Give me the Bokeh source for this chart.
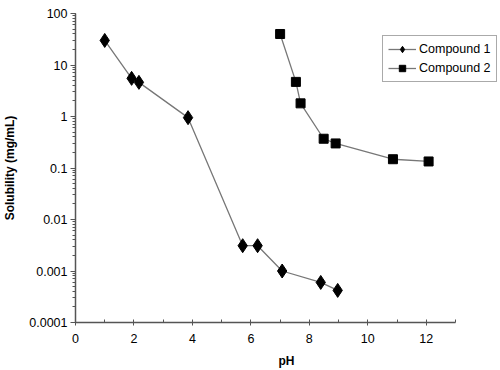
from bokeh.plotting import figure
from bokeh.models import Legend, LegendItem, FixedTicker, LogTicker, Range1d
from bokeh.embed import file_html
from bokeh.resources import INLINE

ph1 = [1.0, 1.92, 2.17, 3.85, 5.72, 6.23, 7.07, 8.39, 8.97]
sol1 = [30, 5.5, 4.6, 0.95, 0.0031, 0.0031, 0.001, 0.0006, 0.00042]
ph2 = [7.0, 7.54, 7.7, 8.49, 8.9, 10.86, 12.08]
sol2 = [40, 4.7, 1.8, 0.37, 0.30, 0.148, 0.134]
x_ticks = [0, 2, 4, 6, 8, 10, 12]
x_minor = [1, 3, 5, 7, 9, 11, 13]
x_max = 13

FONT = "Liberation Sans"

# frame: left 75, top 13, right 497, bottom 322 ; x axis drawn only 0..13
p = figure(width=500, height=370, output_backend="svg", toolbar_location=None,
           y_axis_type="log", x_range=Range1d(0, x_max * 422 / 380), y_range=Range1d(0.0001, 100),
           min_border_left=75, min_border_top=13, min_border_right=3, min_border_bottom=48)
p.outline_line_color = None
p.grid.visible = False
p.background_fill_color = "white"
p.border_fill_color = "white"

l1 = p.line(ph1, sol1, line_color="#777777", line_width=1.3)
m1 = p.scatter(ph1, sol1, marker="diamond", size=14, fill_color="black", line_color="black")
l2 = p.line(ph2, sol2, line_color="#777777", line_width=1.3)
m2 = p.scatter(ph2, sol2, marker="square", size=9, fill_color="black", line_color="black")

legend = Legend(items=[LegendItem(label="Compound 1", renderers=[l1, m1]),
                       LegendItem(label="Compound 2", renderers=[l2, m2])],
                location=(307, 240), border_line_color="#555555", border_line_width=1.5,
                label_text_font=FONT, label_text_font_size="12.5px",
                label_text_color="black", glyph_width=28, glyph_height=16,
                label_height=16, padding=5, spacing=3,
                label_standoff=3, margin=0, background_fill_alpha=1)
p.add_layout(legend, "center")

xa = p.xaxis[0]
xa.ticker = FixedTicker(ticks=x_ticks, minor_ticks=x_minor)
xa.bounds = (0, x_max)
xa.axis_label = "pH"
ya = p.yaxis[0]
ya.ticker = LogTicker(desired_num_ticks=7, num_minor_ticks=10)
ya.axis_label = "Solubility (mg/mL)"

for ax in (xa, ya):
    ax.axis_line_color = "#555555"
    ax.axis_line_width = 1.5
    ax.major_tick_line_color = "#555555"
    ax.minor_tick_line_color = "#555555"
    ax.major_label_text_font = FONT
    ax.major_label_text_font_size = "12.5px"
    ax.major_label_text_color = "black"
    ax.axis_label_text_font = FONT
    ax.axis_label_text_font_size = "12px"
    ax.axis_label_text_font_style = "bold"
    ax.axis_label_text_color = "black"

xa.major_tick_in = 3
xa.major_tick_out = 3
xa.minor_tick_in = 3
xa.minor_tick_out = 0
xa.major_label_standoff = 8
xa.axis_label_standoff = 8

ya.major_tick_in = 0
ya.major_tick_out = 5
ya.minor_tick_in = 0
ya.minor_tick_out = 3
ya.major_label_standoff = 3
ya.axis_label_standoff = 9
ya.major_label_overrides = {0.0001: "0.0001", 0.001: "0.001", 0.01: "0.01", 0.1: "0.1",
                            1: "1", 10: "10", 100: "100"}

open("out.html", "w").write(file_html(p, INLINE))
